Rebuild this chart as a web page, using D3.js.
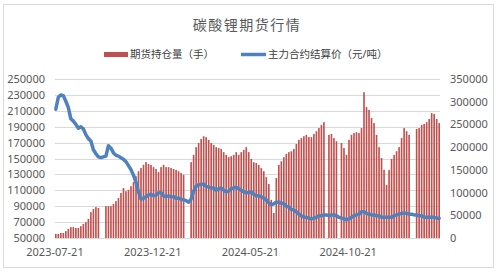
<!DOCTYPE html>
<html>
<head>
<meta charset="utf-8">
<script src="https://cdn.jsdelivr.net/npm/d3@7"></script>
<style>
  body { margin: 0; background: #fff; }
  text { font-family: "Noto Sans", "Noto Sans CJK SC", sans-serif; }
</style>
</head>
<body>
<div id="chart"></div>
<script>
// 期货持仓量（手）, sampled left to right; null = no bar drawn
const openInterest = [
  9000, 9000, 11000, 11000, 15000, 20000, 24000, 24000, 22000, 22000,
  26000, 31000, 35000, 42000, 57000, 64000, 68000, 66000, null, null,
  70000, 70000, 70000, 75000, 81000, 88000, 99000, 110000, 103000, 106000,
  114000, 123000, 136000, 147000, 154000, 161000, 167000, 163000, 161000, 156000,
  152000, 145000, 156000, 161000, 156000, 156000, 154000, 152000, 150000, 147000,
  143000, 139000, null, null, 167000, 183000, 200000, 209000, 218000, 224000,
  222000, 216000, 209000, 205000, 200000, 198000, 196000, 189000, 183000, 178000,
  180000, 183000, 189000, 183000, 189000, 194000, 200000, 189000, 174000, 167000,
  165000, 161000, 154000, 147000, 134000, 119000, 84000, 55000, 132000, 161000,
  169000, 178000, 185000, 189000, 191000, 196000, 207000, 216000, 220000, 224000,
  227000, 222000, 222000, 229000, 235000, 242000, 249000, 255000, null, 227000,
  229000, 220000, 213000, null, 209000, 198000, 183000, 216000, 227000, 231000,
  233000, 231000, 242000, 321000, 288000, 282000, 264000, 253000, 227000, 200000,
  176000, 150000, 117000, 150000, 174000, 183000, 191000, 200000, 220000, 242000,
  235000, 227000, null, null, 240000, 242000, 249000, 251000, 255000, 262000,
  275000, 273000, 262000, 253000
];

// 主力合约结算价（元/吨）
const settlePrice = [
  212000, 227000, 230000, 229000, 222000, 214000, 200000, 197000, 193000, 188000,
  190000, 187000, 180000, 175000, 172000, 161000, 156000, 152000, 151000, 152000,
  153000, 166000, 163000, 157000, 154000, 153000, 151000, 149000, 146000, 141000,
  136000, 129000, 120000, 108000, 99000, 100000, 102000, 104000, 105000, 103000,
  104000, 107000, 107000, 103000, 102000, 103000, 102000, 102000, 100000, 100000,
  99000, 98000, 97000, 95000, 99000, 109000, 115000, 117000, 117000, 118000,
  115000, 114000, 113000, 113000, 110000, 112000, 113000, 110000, 108000, 109000,
  112000, 113000, 114000, 112000, 110000, 108000, 107000, 107000, 108000, 105000,
  103000, 103000, 102000, 100000, 98000, 94000, 92000, 93000, 95000, 95000,
  94000, 93000, 90000, 89000, 86000, 85000, 83000, 80000, 78000, 76000,
  76000, 75000, 74000, 75000, 76000, 78000, 78000, 79000, 79000, 78000,
  79000, 79000, 78000, 76000, 75000, 74000, 73000, 74000, 76000, 78000,
  79000, 80000, 83000, 83000, 81000, 80000, 79000, 79000, 78000, 78000,
  76000, 76000, 76000, 76000, 76000, 78000, 79000, 80000, 81000, 81000,
  81000, 80000, 80000, 79000, 79000, 78000, 78000, 76000, 76000, 76000,
  76000, 76000, 75000, 75000
];

const dateLabels = ["2023-07-21", "2023-12-21", "2024-05-21", "2024-10-21"];
const dateLabelIndex = [0, 39, 78, 117];

const leftTicks = d3.range(50000, 250001, 20000);
const rightTicks = d3.range(0, 350001, 50000);

const width = 500, height = 272;
const plot = { left: 55, right: 440, top: 79, bottom: 238 };

const svg = d3.select("#chart").append("svg")
  .attr("width", width)
  .attr("height", height);

svg.append("rect")
  .attr("x", 3.5).attr("y", 4.5)
  .attr("width", 490).attr("height", 263)
  .attr("fill", "#fff")
  .attr("stroke", "#d9d9d9");

const x = d3.scaleBand()
  .domain(d3.range(openInterest.length))
  .range([plot.left, plot.right])
  .paddingInner(0.35)
  .paddingOuter(0);

const yLeft = d3.scaleLinear().domain([50000, 250000]).range([plot.bottom, plot.top]);
const yRight = d3.scaleLinear().domain([0, 350000]).range([plot.bottom, plot.top]);

// gridlines
svg.append("g")
  .selectAll("line")
  .data(leftTicks)
  .join("line")
  .attr("x1", plot.left).attr("x2", plot.right)
  .attr("y1", d => Math.round(yLeft(d)) + 0.5)
  .attr("y2", d => Math.round(yLeft(d)) + 0.5)
  .attr("stroke", "#d9d9d9");

// bars
svg.append("g")
  .selectAll("rect")
  .data(openInterest.map((v, i) => ({ v, i })).filter(d => d.v != null))
  .join("rect")
  .attr("x", d => x(d.i))
  .attr("width", x.bandwidth())
  .attr("y", d => yRight(d.v))
  .attr("height", d => yRight(0) - yRight(d.v))
  .attr("fill", "#c0504d");

// price line
const line = d3.line()
  .x((d, i) => x(i) + x.bandwidth() / 2)
  .y(d => yLeft(d));

svg.append("path")
  .datum(settlePrice)
  .attr("d", line)
  .attr("fill", "none")
  .attr("stroke", "#4f81bd")
  .attr("stroke-width", 3.5)
  .attr("stroke-linejoin", "round")
  .attr("stroke-linecap", "round");

// left axis
const axL = svg.append("g")
  .attr("transform", `translate(${plot.left - 10},0)`)
  .call(d3.axisLeft(yLeft).tickValues(leftTicks).tickSize(0).tickPadding(0).tickFormat(d3.format("d")));
axL.select(".domain").remove();
axL.selectAll("text").attr("fill", "#595959").style("font-size", "11px");

// right axis
const axR = svg.append("g")
  .attr("transform", `translate(${plot.right + 10},0)`)
  .call(d3.axisRight(yRight).tickValues(rightTicks).tickSize(0).tickPadding(0).tickFormat(d3.format("d")));
axR.select(".domain").remove();
axR.selectAll("text").attr("fill", "#595959").style("font-size", "11px");

// date labels
svg.append("g")
  .selectAll("text")
  .data(dateLabelIndex)
  .join("text")
  .attr("x", d => x(d))
  .attr("y", 256)
  .attr("text-anchor", "middle")
  .attr("fill", "#595959")
  .style("font-size", "11px")
  .text((d, i) => dateLabels[i]);

// title
svg.append("text")
  .attr("x", 247).attr("y", 30)
  .attr("text-anchor", "middle")
  .attr("fill", "#595959")
  .style("font-size", "14px")
  .style("letter-spacing", "1.5px")
  .style("font-family", "'Noto Sans CJK SC', sans-serif")
  .text("碳酸锂期货行情");

// legend
const legend = svg.append("g").style("font-family", "'Noto Sans CJK SC', sans-serif");
legend.append("rect")
  .attr("x", 104).attr("y", 52).attr("width", 24).attr("height", 5)
  .attr("fill", "#c0504d");
legend.append("text")
  .attr("x", 130).attr("y", 58)
  .attr("fill", "#404040").style("font-size", "10.5px")
  .text("期货持仓量（手）");
legend.append("line")
  .attr("x1", 241).attr("x2", 266).attr("y1", 54.5).attr("y2", 54.5)
  .attr("stroke", "#4f81bd").attr("stroke-width", 3.5);
legend.append("text")
  .attr("x", 268).attr("y", 58)
  .attr("fill", "#404040").style("font-size", "10.5px")
  .text("主力合约结算价（元/吨）");
</script>
</body>
</html>
